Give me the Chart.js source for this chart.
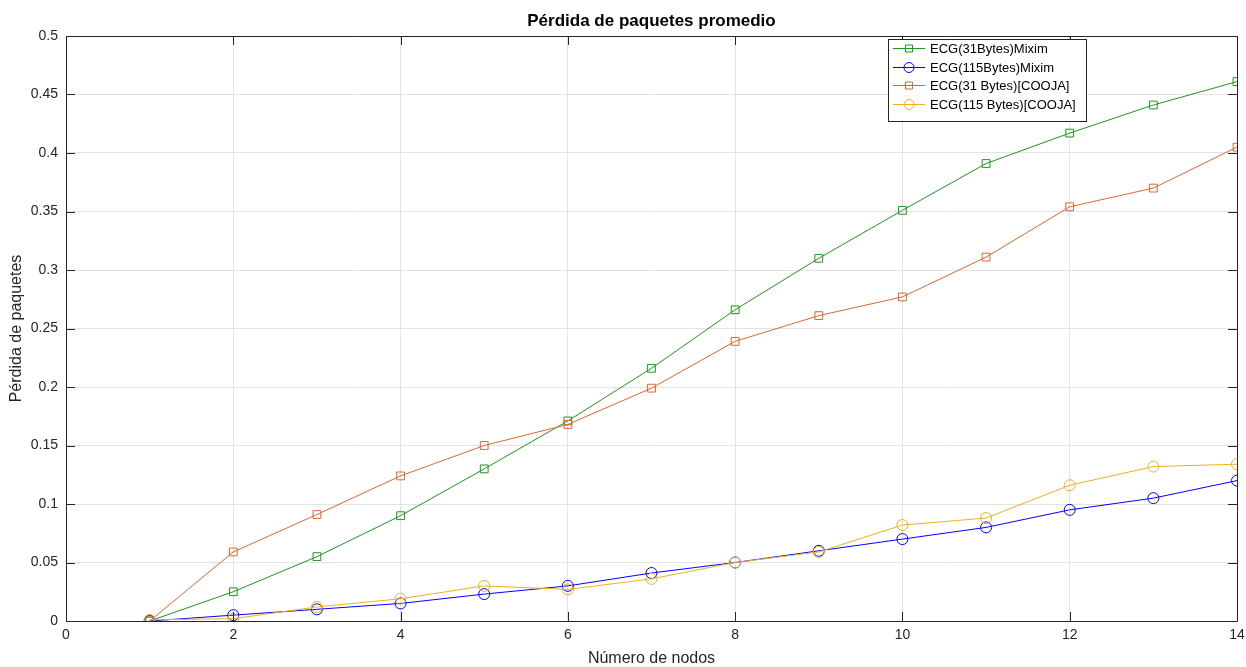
<!DOCTYPE html>
<html>
<head>
<meta charset="utf-8">
<title>Pérdida de paquetes promedio</title>
<script src="https://cdn.jsdelivr.net/npm/chart.js@4.4.1/dist/chart.umd.min.js"></script>
<style>
    html, body { margin: 0; padding: 0; background: #ffffff; }
    #wrap { width: 1246px; height: 667px; }
</style>
</head>
<body>
<div id="wrap"><canvas id="lossChart"></canvas></div>
<script>
// values (x = number of nodes)
const nodos = [1, 2, 3, 4, 5, 6, 7, 8, 9, 10, 11, 12, 13, 14];
const ecg31Mixim = [0, 0.025, 0.055, 0.090, 0.130, 0.171, 0.216, 0.266, 0.310, 0.351, 0.391, 0.417, 0.441, 0.461];
const ecg115Mixim = [0, 0.005, 0.010, 0.015, 0.023, 0.030, 0.041, 0.050, 0.060, 0.070, 0.080, 0.095, 0.105, 0.120];
const ecg31Cooja = [0, 0.059, 0.091, 0.124, 0.150, 0.168, 0.199, 0.239, 0.261, 0.277, 0.311, 0.354, 0.370, 0.405];
const ecg115Cooja = [0.001, 0.002, 0.012, 0.019, 0.030, 0.027, 0.036, 0.050, 0.059, 0.082, 0.088, 0.116, 0.132, 0.134];

const xTicks = [0, 2, 4, 6, 8, 10, 12, 14];
const yTicks = [0, 0.05, 0.1, 0.15, 0.2, 0.25, 0.3, 0.35, 0.4, 0.45, 0.5];

const FONT = '"Liberation Sans", Arial, Helvetica, sans-serif';
const AXIS_COLOR = '#262626';

function toPoints(values) {
    return values.map((v, i) => ({ x: nodos[i], y: v }));
}

function makeSeries(label, values, color, marker, order) {
    return {
        label: label,
        data: toPoints(values),
        borderColor: color,
        backgroundColor: color,
        borderWidth: 1,
        pointStyle: marker,
        pointRadius: 5.5,
        pointBorderWidth: 1,
        pointBorderColor: color,
        pointBackgroundColor: 'rgba(0,0,0,0)',
        tension: 0,
        order: order
    };
}

// box around the axes with inward tick marks (matlab look)
const axisBox = {
    id: 'axisBox',
    afterDatasetsDraw(chart) {
        const { ctx, chartArea: a, scales } = chart;
        const tick = 9;
        ctx.save();
        ctx.strokeStyle = AXIS_COLOR;
        ctx.lineWidth = 1;
        ctx.beginPath();
        ctx.rect(Math.round(a.left) + 0.5, Math.round(a.top) + 0.5,
            Math.round(a.right - a.left), Math.round(a.bottom - a.top));
        xTicks.forEach(v => {
            const px = Math.round(scales.x.getPixelForValue(v)) + 0.5;
            ctx.moveTo(px, a.bottom);
            ctx.lineTo(px, a.bottom - tick);
            ctx.moveTo(px, a.top);
            ctx.lineTo(px, a.top + tick);
        });
        yTicks.forEach(v => {
            const py = Math.round(scales.y.getPixelForValue(v)) + 0.5;
            ctx.moveTo(a.left, py);
            ctx.lineTo(a.left + tick, py);
            ctx.moveTo(a.right, py);
            ctx.lineTo(a.right - tick, py);
        });
        ctx.stroke();
        ctx.restore();
    }
};

// legend box placed inside the axes, near the top
const boxLegend = {
    id: 'boxLegend',
    afterDraw(chart) {
        const ctx = chart.ctx;
        const sets = chart.data.datasets;
        const x0 = 888, y0 = 39, w = 198, rowH = 18.5;
        const h = 8 + rowH * sets.length;
        ctx.save();
        ctx.fillStyle = '#ffffff';
        ctx.fillRect(x0, y0, w, h);
        ctx.strokeStyle = AXIS_COLOR;
        ctx.lineWidth = 1;
        ctx.strokeRect(x0 + 0.5, y0 + 0.5, w, h);
        ctx.font = '13px ' + FONT;
        ctx.textBaseline = 'middle';
        sets.forEach((ds, i) => {
            const cy = Math.round(y0 + 9 + rowH * i) + 0.5;
            ctx.strokeStyle = ds.borderColor;
            ctx.beginPath();
            ctx.moveTo(x0 + 5, cy);
            ctx.lineTo(x0 + 37, cy);
            ctx.stroke();
            const mx = x0 + 21;
            ctx.beginPath();
            if (ds.pointStyle === 'rect') {
                ctx.rect(mx - 3.5, cy - 3.5, 7, 7);
            } else {
                ctx.arc(mx, cy, 5, 0, Math.PI * 2);
            }
            ctx.stroke();
            ctx.fillStyle = '#000000';
            ctx.fillText(ds.label, x0 + 42, cy + 1);
        });
        ctx.restore();
    }
};

const ctx = document.getElementById('lossChart').getContext('2d');
const chart = new Chart(ctx, {
    type: 'line',
    data: {
        datasets: [
            makeSeries('ECG(31Bytes)Mixim', ecg31Mixim, '#1e961e', 'rect', 4),
            makeSeries('ECG(115Bytes)Mixim', ecg115Mixim, '#0000ff', 'circle', 3),
            makeSeries('ECG(31 Bytes)[COOJA]', ecg31Cooja, '#e0652f', 'rect', 2),
            makeSeries('ECG(115 Bytes)[COOJA]', ecg115Cooja, '#edb120', 'circle', 1)
        ]
    },
    options: {
        responsive: true,
        maintainAspectRatio: false,
        animation: false,
        devicePixelRatio: 1,
        layout: { padding: { top: 0, right: 9, bottom: 0, left: 0 } },
        plugins: {
            legend: { display: false },
            tooltip: { enabled: false },
            title: {
                display: true,
                fullSize: false,
                text: 'Pérdida de paquetes promedio',
                color: '#000000',
                font: { family: FONT, size: 17, weight: 'bold', lineHeight: 1.2 },
                padding: { top: 11, bottom: 4.6 }
            }
        },
        scales: {
            x: {
                type: 'linear',
                min: 0,
                max: 14,
                afterFit(scale) {
                    scale.height = 46;
                    scale.paddingLeft = 0;
                    scale.paddingRight = 0;
                },
                afterBuildTicks(scale) { scale.ticks = xTicks.map(v => ({ value: v })); },
                grid: { color: '#e3e3e3', drawTicks: false },
                border: { display: false },
                ticks: {
                    color: AXIS_COLOR,
                    font: { family: FONT, size: 14 },
                    padding: 6,
                    maxRotation: 0
                },
                title: {
                    display: true,
                    text: 'Número de nodos',
                    color: AXIS_COLOR,
                    font: { family: FONT, size: 16, lineHeight: 1 },
                    padding: { top: 0, bottom: 0 }
                }
            },
            y: {
                min: 0,
                max: 0.5,
                afterFit(scale) { scale.width = 66; },
                afterBuildTicks(scale) { scale.ticks = yTicks.map(v => ({ value: v })); },
                grid: { color: '#e3e3e3', drawTicks: false },
                border: { display: false },
                ticks: {
                    color: AXIS_COLOR,
                    font: { family: FONT, size: 14 },
                    padding: 8,
                    callback: v => String(Math.round(v * 100) / 100)
                },
                title: {
                    display: true,
                    text: 'Pérdida de paquetes',
                    color: AXIS_COLOR,
                    font: { family: FONT, size: 16, lineHeight: 1.2 },
                    padding: { top: 7.4, bottom: 0 }
                }
            }
        }
    },
    plugins: [axisBox, boxLegend]
});
</script>
</body>
</html>
